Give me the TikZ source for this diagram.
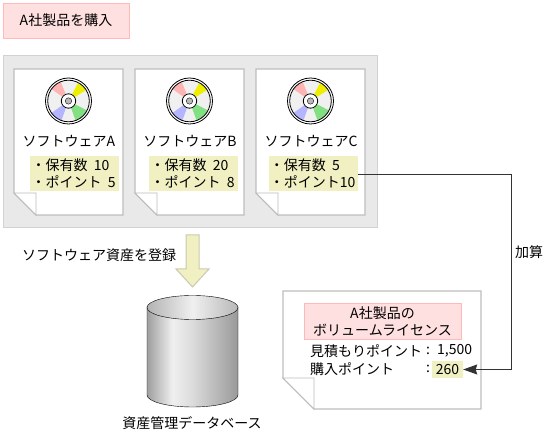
\documentclass[tikz,border=0pt]{standalone}
\usepackage{fontspec}
\setmainfont{Noto Sans CJK JP}[WordSpace=2]
\usetikzlibrary{arrows.meta}
\definecolor{pinkfill}{HTML}{FFE0E0}
\definecolor{pinkline}{HTML}{FFB9B9}
\definecolor{panelfill}{HTML}{E9E9E9}
\definecolor{panelline}{HTML}{D2D2D2}
\definecolor{docline}{HTML}{BDBDBD}
\definecolor{notefill}{HTML}{F0F0C3}
\definecolor{notearrow}{HTML}{C9C9AE}
\definecolor{discpink}{HTML}{FFB4B4}
\definecolor{discyellow}{HTML}{EEEE00}
\definecolor{discgreen}{HTML}{82E082}
\definecolor{discblue}{HTML}{B4B4FF}
\pgfdeclarehorizontalshading{cylbody}{100bp}{color(0bp)=(black!38); color(25bp)=(black!38); color(39bp)=(black!6); color(50bp)=(black!14); color(75bp)=(black!40); color(100bp)=(black!40)}
\pgfdeclarehorizontalshading{cyltop}{100bp}{color(0bp)=(black!30); color(25bp)=(black!30); color(50bp)=(black!6); color(75bp)=(black!28); color(100bp)=(black!28)}
\tikzset{
	pinkbox/.style={draw=pinkline, fill=pinkfill, line width=0.9pt, align=center},
	notebox/.style={fill=notefill, anchor=north west, align=left, inner sep=0pt, text depth=2pt},
	docpage/.style={draw=docline, fill=white, line width=1.2pt},
	dogear/.style={draw=docline, fill=white, line width=0.8pt},
	plain/.style={inner sep=0pt, align=left}
}
\begin{document}
\begin{tikzpicture}[x=1pt, y=-1pt, >={Stealth[length=14pt,width=10pt,inset=1.5pt]}, every node/.append style={font=\fontsize{14}{17}\selectfont}]
	\useasboundingbox (0,0) rectangle (547,435);

	% 見出し
	\node[pinkbox, minimum width=126pt, minimum height=35pt] (title) at (66,20.5) {A社製品を購入};

	% 背景
	\draw[draw=panelline, fill=panelfill, line width=1pt] (3,56) rectangle (377,228);

	% ソフトウェア3つ
	\foreach \x/\off/\soft/\qty/\pts/\gap in {14/16/A/10/5/{\ }, 135/14/B/20/8/{\ }, 256/13/C/5/10/{}} {
		\begin{scope}[shift={(\x,0)}]
			\draw[docpage] (0,69) -- (109,69) -- (109,215) -- (22,215) -- (0,193) -- cycle;
			\draw[dogear] (0,193) -- (22,193) -- (22,215) -- cycle;
			% ディスク
			\fill[gray!12] (54.5,101) circle (21);
			\foreach \a/\b/\col in {-112/-145/discpink, -32/-62/discyellow, 27/70/discgreen, 145/110/discblue} {
				\fill[\col] (54.5,101) ++(\a:8) -- ++(\a:12.5) arc[start angle=\a, end angle=\b, radius=20.5] -- ++(\b:-12.5) -- cycle;
			}
			\draw[black, thick] (54.5,101) circle (23);
			\draw[black, thick] (54.5,101) circle (20.8);
			\fill[white] (54.5,101) circle (7.2);
			\draw[black, thick] (54.5,101) circle (7.2);
			\draw[black, fill=gray!55, thin] (54.5,101) circle (3.2);
			\node[plain] (name\soft) at (55,141) {ソフトウェア\soft};
			\node[notebox, minimum width=89pt, minimum height=35pt] (points\soft) at (\off,156) {\hspace*{-2pt}\strut ・保有数 \qty\\\hspace*{-2pt}\strut ・ポイント\gap\pts};
		\end{scope}
	}

	% 登録の矢印
	\node[plain, anchor=west] (regist) at (22,255) {ソフトウェア資産を登録};
	\draw[draw=notearrow, fill=notefill, line width=1pt] (186,235) -- (199,235) -- (199,269) -- (209,269) -- (192.5,287) -- (176,269) -- (186,269) -- cycle;

	% データベース
	\draw[black, shading=cylbody] (147,307) -- (147,395) arc[start angle=180, end angle=0, x radius=45.5, y radius=12] -- (238,307) -- cycle;
	\draw[black, shading=cyltop] (192.5,307.5) ellipse (45.5 and 12);
	\node[plain] (dbname) at (192,423) {資産管理データベース};

	% ライセンス
	\draw[docpage] (283,291) -- (481,291) -- (481,409) -- (314,409) -- (283,378) -- cycle;
	\draw[dogear] (283,378) -- (314,378) -- (314,409) -- cycle;
	\node[pinkbox, minimum width=157pt, minimum height=36pt] (license) at (382.5,321) {A社製品の\\ボリュームライセンス};
	\node[plain, anchor=west] (estimate) at (310,351) {見積もりポイント};
	\node[plain] (colonA) at (428,351) {:};
	\node[plain, anchor=west] (estimateval) at (437,351) {1,500};
	\node[plain, anchor=west] (bought) at (310,369) {購入ポイント};
	\node[plain] (colonB) at (428,369) {:};
	\node[fill=notefill, minimum width=31pt, minimum height=17pt, inner sep=0pt] (boughtval) at (447.5,369.5) {260};

	% 加算
	\coordinate (bendT) at (511,175);
	\coordinate (bendB) at (511,369.5);
	\draw[->, black!80, line width=1pt] (pointsC.east |- bendT) -- (bendT) -- (bendB) -- (boughtval.east);
	\node[plain] (addlabel) at (529,252) {加算};
\end{tikzpicture}
\end{document}
